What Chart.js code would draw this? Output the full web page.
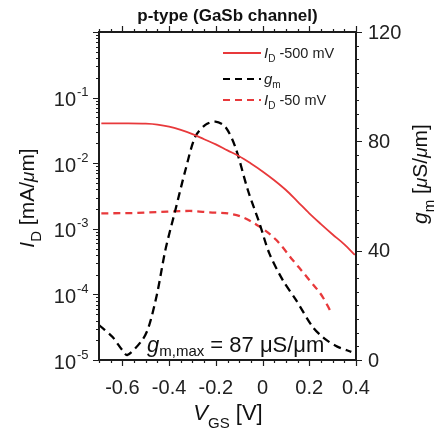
<!DOCTYPE html>
<html>
<head>
<meta charset="utf-8">
<script src="https://cdn.jsdelivr.net/npm/chart.js@4.4.1/dist/chart.umd.min.js"></script>
<style>
  html, body { margin: 0; padding: 0; background: #fff; }
  canvas { display: block; }
</style>
</head>
<body>
<canvas id="ivChart" width="437" height="433"></canvas>
<script>
// ---- measured data ----
const vgsHigh = [-0.69, -0.6, -0.5, -0.45, -0.4, -0.35, -0.3, -0.25, -0.2, -0.15, -0.1, -0.05, 0, 0.05, 0.1, 0.15, 0.2, 0.25, 0.3, 0.35, 0.395];
const idHigh = [0.0406, 0.0405, 0.0400, 0.0388, 0.0362, 0.0322, 0.0278, 0.0232, 0.0194, 0.0157, 0.0128, 0.0099, 0.0075, 0.0055, 0.0039, 0.0026, 0.00172, 0.00118, 0.00082, 0.00058, 0.00040];

const vgsLow = [-0.69, -0.555, -0.44, -0.312, -0.227, -0.141, -0.085, -0.013, 0.058, 0.129, 0.2, 0.257, 0.292];
const idLow = [0.00172, 0.00174, 0.00181, 0.00187, 0.00178, 0.00170, 0.00150, 0.00108, 0.00068, 0.000335, 0.000166, 0.000092, 0.0000545];

const vgsGm = [-0.7, -0.643, -0.601, -0.579, -0.515, -0.487, -0.451, -0.416, -0.373, -0.33, -0.288, -0.245, -0.202, -0.16, -0.117, -0.063, -0.013, 0.029, 0.086, 0.143, 0.214, 0.264, 0.32, 0.38];
const gmVals = [12.8, 8.5, 3.7, 1.8, 7.3, 12.2, 24.4, 40.2, 54.9, 69.5, 81.7, 86.0, 87.2, 85.4, 78.0, 62.2, 50.0, 39.0, 29.3, 22.0, 12.2, 7.9, 4.9, 3.0];

const xTicks = [-0.6, -0.4, -0.2, 0, 0.2, 0.4];
const xTickLabels = ['-0.6', '-0.4', '-0.2', '0', '0.2', '0.4'];
const idDecades = [-5, -4, -3, -2, -1];
const gmTicks = [0, 40, 80, 120];

const RED = '#e8393b';
const INK = '#1c1c1c';
const FONT = '"Liberation Sans", Arial, Helvetica, sans-serif';

function pts(xs, ys) {
  return xs.map(function (x, i) { return { x: x, y: ys[i] }; });
}

// draw a run of text pieces: [text, size, italic, dy]
function drawRich(ctx, x, y, parts) {
  let cx = x;
  parts.forEach(function (p) {
    ctx.font = (p[2] ? 'italic ' : '') + p[1] + 'px ' + FONT;
    ctx.fillText(p[0], cx, y + (p[3] || 0));
    cx += ctx.measureText(p[0]).width;
  });
  return cx;
}
function richWidth(ctx, parts) {
  let w = 0;
  parts.forEach(function (p) {
    ctx.font = (p[2] ? 'italic ' : '') + p[1] + 'px ' + FONT;
    w += ctx.measureText(p[0]).width;
  });
  return w;
}

const decorations = {
  id: 'decorations',
  afterDraw: function (chart) {
    const ctx = chart.ctx;
    const a = chart.chartArea;
    const sx = chart.scales.x;
    const sy = chart.scales.y;
    const sg = chart.scales.y2;
    ctx.save();

    // frame
    ctx.strokeStyle = INK;
    ctx.lineWidth = 2;
    ctx.strokeRect(a.left, a.top, a.right - a.left, a.bottom - a.top);

    ctx.lineWidth = 1.2;
    ctx.beginPath();
    // x ticks, bottom and top, outward
    for (let v = -0.7; v <= 0.4001; v += 0.05) {
      const px = Math.round(sx.getPixelForValue(v)) + 0.5;
      const major = xTicks.some(function (t) { return Math.abs(t - v) < 1e-6; });
      const len = major ? 6 : 3;
      ctx.moveTo(px, a.bottom); ctx.lineTo(px, a.bottom + len);
      ctx.moveTo(px, a.top); ctx.lineTo(px, a.top - len);
    }
    // log ticks on the left
    for (let k = -5; k <= 0; k++) {
      for (let m = 1; m <= 9; m++) {
        const v = m * Math.pow(10, k);
        if (v > 1.0001) break;
        const py = Math.round(sy.getPixelForValue(v)) + 0.5;
        const len = m === 1 ? 6 : 3;
        ctx.moveTo(a.left, py); ctx.lineTo(a.left - len, py);
      }
    }
    // gm ticks on the right
    for (let g = 0; g <= 120; g += 5) {
      const py = Math.round(sg.getPixelForValue(g)) + 0.5;
      const len = g % 40 === 0 ? 6 : 3;
      ctx.moveTo(a.right, py); ctx.lineTo(a.right + len, py);
    }
    ctx.stroke();

    ctx.fillStyle = '#222';
    // bottom tick labels
    ctx.textAlign = 'center';
    ctx.textBaseline = 'middle';
    ctx.font = '20px ' + FONT;
    xTicks.forEach(function (v, i) {
      ctx.fillText(xTickLabels[i], sx.getPixelForValue(v), 388);
    });
    // right tick labels
    ctx.textAlign = 'left';
    gmTicks.forEach(function (g) {
      ctx.fillText(String(g), 368, sg.getPixelForValue(g) + 1);
    });
    // left tick labels 10^k
    idDecades.forEach(function (k) {
      const py = sy.getPixelForValue(Math.pow(10, k));
      ctx.textAlign = 'right';
      ctx.font = '20px ' + FONT;
      ctx.fillText('10', 76, py + 3);
      ctx.textAlign = 'left';
      ctx.font = '13px ' + FONT;
      ctx.fillText(String(k), 77, py - 5);
    });

    // title
    ctx.textAlign = 'center';
    ctx.textBaseline = 'alphabetic';
    ctx.font = 'bold 17px ' + FONT;
    ctx.fillStyle = '#111';
    ctx.fillText('p-type (GaSb channel)', (a.left + a.right) / 2, 21);

    // x axis title
    ctx.textAlign = 'left';
    const xTitle = [['V', 22, true], ['GS', 15, false, 8], [' [V]', 22, false]];
    drawRich(ctx, 228 - richWidth(ctx, xTitle) / 2, 420, xTitle);

    // left axis title (reads upward)
    const yTitle = [['I', 21, true], ['D', 15, false, 7], [' [mA/', 21, false], ['μ', 19, true], ['m]', 21, false]];
    ctx.save();
    ctx.translate(34, 198);
    ctx.rotate(-Math.PI / 2);
    drawRich(ctx, -richWidth(ctx, yTitle) / 2, 0, yTitle);
    ctx.restore();

    // right axis title (reads upward)
    const gTitle = [['g', 21, true], ['m', 15, false, 7], [' [', 21, false], ['μ', 19, true], ['S/', 21, false], ['μ', 19, true], ['m]', 21, false]];
    ctx.save();
    ctx.translate(427, 174);
    ctx.rotate(-Math.PI / 2);
    drawRich(ctx, -richWidth(ctx, gTitle) / 2, 0, gTitle);
    ctx.restore();

    // legend
    const rows = [
      { y: 53, color: RED, dash: [], text: [['I', 15, true], ['D', 10, false, 4], [' -500 mV', 14.5, false]] },
      { y: 79, color: '#000', dash: [7, 5], text: [['g', 15, true], ['m', 10, false, 4]] },
      { y: 100, color: RED, dash: [7, 5], text: [['I', 15, true], ['D', 10, false, 4], [' -50 mV', 14.5, false]] }
    ];
    rows.forEach(function (r) {
      ctx.beginPath();
      ctx.setLineDash(r.dash);
      ctx.strokeStyle = r.color;
      ctx.lineWidth = 2;
      ctx.moveTo(223, r.y);
      ctx.lineTo(261, r.y);
      ctx.stroke();
      ctx.setLineDash([]);
      ctx.fillStyle = '#222';
      drawRich(ctx, 264, r.y + 5, r.text);
    });

    // peak transconductance note
    ctx.fillStyle = '#111';
    drawRich(ctx, 147, 352, [['g', 22, true], ['m,max', 15, false, 4], [' = 87 μS/μm', 22, false]]);

    ctx.restore();
  }
};

new Chart(document.getElementById('ivChart'), {
  type: 'line',
  data: {
    datasets: [
      {
        label: 'ID -500 mV',
        data: pts(vgsHigh, idHigh),
        yAxisID: 'y',
        borderColor: RED,
        borderWidth: 1.8,
        pointRadius: 0,
        cubicInterpolationMode: 'monotone'
      },
      {
        label: 'gm',
        data: pts(vgsGm, gmVals),
        yAxisID: 'y2',
        borderColor: '#000',
        borderWidth: 2.3,
        borderDash: [8, 5],
        pointRadius: 0,
        tension: 0.3
      },
      {
        label: 'ID -50 mV',
        data: pts(vgsLow, idLow),
        yAxisID: 'y',
        borderColor: RED,
        borderWidth: 2.3,
        borderDash: [7, 5],
        pointRadius: 0,
        cubicInterpolationMode: 'monotone'
      }
    ]
  },
  options: {
    responsive: false,
    animation: false,
    layout: { padding: { top: 32, left: 0, right: 0, bottom: 0 } },
    plugins: { legend: { display: false }, tooltip: { enabled: false }, title: { display: false } },
    scales: {
      x: {
        type: 'linear',
        min: -0.7,
        max: 0.4,
        grid: { display: false, drawTicks: false },
        border: { display: false },
        ticks: { display: false },
        afterFit: function (s) { s.height = 73; }
      },
      y: {
        type: 'logarithmic',
        position: 'left',
        min: 1e-5,
        max: 1,
        grid: { display: false, drawTicks: false },
        border: { display: false },
        ticks: { display: false },
        afterFit: function (s) { s.width = 99; }
      },
      y2: {
        type: 'linear',
        position: 'right',
        min: 0,
        max: 120,
        grid: { display: false, drawTicks: false },
        border: { display: false },
        ticks: { display: false },
        afterFit: function (s) { s.width = 81; }
      }
    }
  },
  plugins: [decorations]
});
</script>
</body>
</html>
